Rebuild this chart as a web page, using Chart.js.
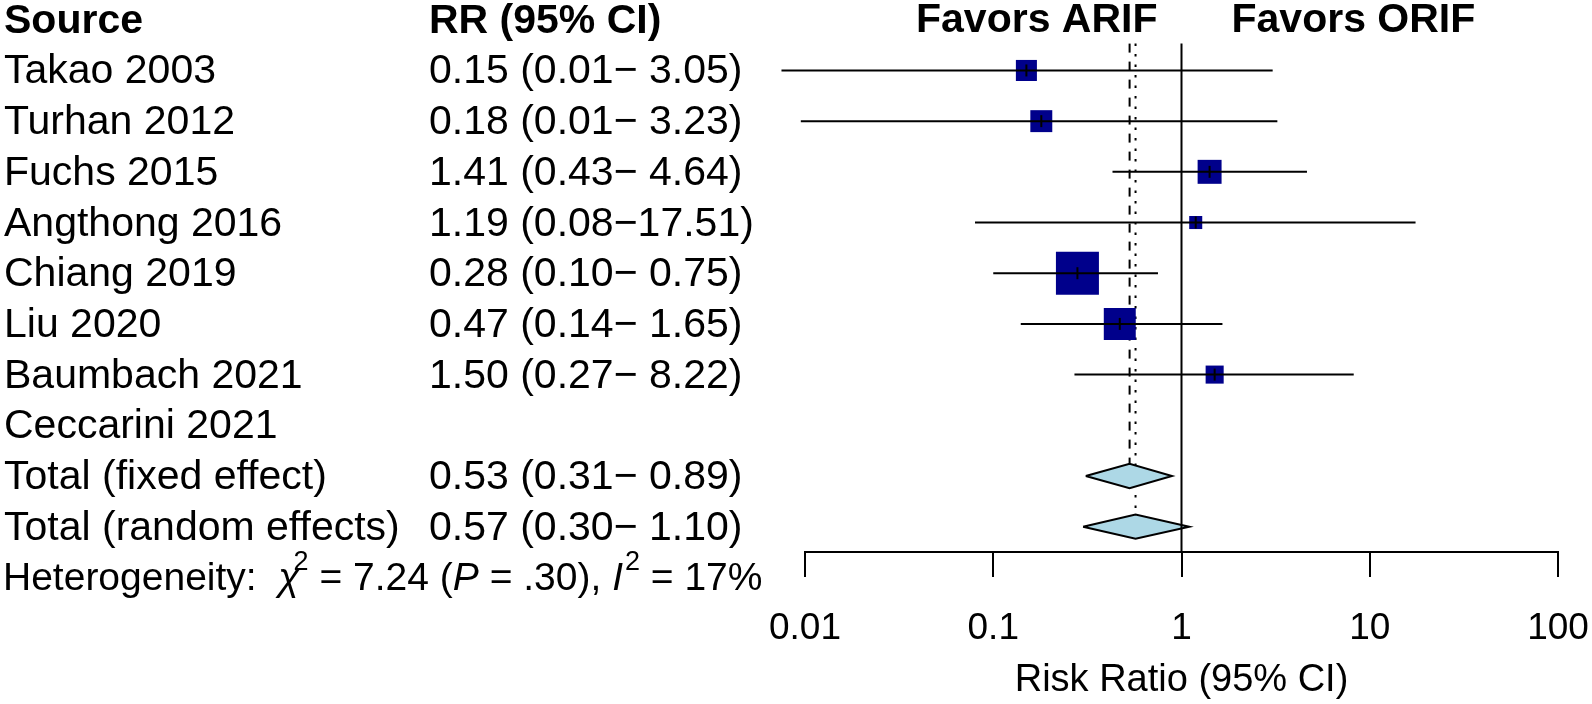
<!DOCTYPE html>
<html>
<head>
<meta charset="utf-8">
<script src="https://cdn.jsdelivr.net/npm/chart.js@4.4.1/dist/chart.umd.min.js"></script>
<style>
  body { margin: 0; background: #fff; }
  #wrap { width: 1592px; height: 704px; }
</style>
</head>
<body>
<div id="wrap"><canvas id="forest"></canvas></div>
<script>
// studies
const studies = ['Takao 2003', 'Turhan 2012', 'Fuchs 2015', 'Angthong 2016', 'Chiang 2019', 'Liu 2020', 'Baumbach 2021', 'Ceccarini 2021'];
const rrText = ['0.15 (0.01\u2212 3.05)', '0.18 (0.01\u2212 3.23)', '1.41 (0.43\u2212 4.64)', '1.19 (0.08\u221217.51)',
                '0.28 (0.10\u2212 0.75)', '0.47 (0.14\u2212 1.65)', '1.50 (0.27\u2212 8.22)', ''];
const rr = [0.15, 0.18, 1.41, 1.19, 0.28, 0.47, 1.50, null];
const lower = [0.0075, 0.0095, 0.43, 0.08, 0.10, 0.14, 0.27, null];
const upper = [3.05, 3.23, 4.64, 17.51, 0.75, 1.65, 8.22, null];
const weights = [9.1, 9.9, 11.8, 3.5, 38.0, 21.0, 6.7, null]; // % weight (square area)

// pooled
const pooledLabels = ['Total (fixed effect)', 'Total (random effects)'];
const pooledText = ['0.53 (0.31\u2212 0.89)', '0.57 (0.30\u2212 1.10)'];
const pooledEst = [0.53, 0.57];
const pooledLower = [0.31, 0.30];
const pooledUpper = [0.89, 1.10];

// axis
const xTicks = [0.01, 0.1, 1, 10, 100];
const xTickLabels = ['0.01', '0.1', '1', '10', '100'];

const FONT = "'Liberation Sans', Arial, sans-serif";
const rowOf = i => i + 1;              // row 0 = header
const fixedRow = studies.length + 1;   // 9
const randomRow = studies.length + 2;  // 10
const hetRow = studies.length + 3;     // 11
const dh = 0.24;                       // half height of diamonds (rows)
const sq = 6.975;                      // square side per sqrt(weight)

const datasets = [];

// CI lines
studies.forEach((s, i) => {
    if (rr[i] == null) return;
    datasets.push({
        data: [{x: lower[i], y: rowOf(i)}, {x: upper[i], y: rowOf(i)}],
        showLine: true, borderColor: '#000', borderWidth: 2, pointRadius: 0, clip: false, order: 3
    });
});

// squares
datasets.push({
    data: rr.map((v, i) => ({x: v, y: rowOf(i)})).filter(p => p.x != null),
    pointStyle: 'rect',
    pointRadius: weights.filter(w => w != null).map(w => sq * Math.sqrt(w) / Math.SQRT2),
    backgroundColor: '#00008B', borderWidth: 0, order: 4, clip: false
});

// small vertical tick at estimate
datasets.push({
    data: rr.map((v, i) => ({x: v, y: rowOf(i)})).filter(p => p.x != null),
    pointStyle: 'line', rotation: 90, pointRadius: 6, borderWidth: 2, borderColor: '#000', order: 2, clip: false
});

// diamonds
[fixedRow, randomRow].forEach((row, k) => {
    datasets.push({
        data: [
            {x: pooledLower[k], y: row}, {x: pooledEst[k], y: row - dh},
            {x: pooledUpper[k], y: row}, {x: pooledEst[k], y: row + dh},
            {x: pooledLower[k], y: row}
        ],
        showLine: true, fill: 'shape', backgroundColor: '#ADD8E6', borderColor: '#000', borderWidth: 2,
        pointRadius: 0, tension: 0, order: 6, clip: false
    });
});

// reference lines
const refTop = 0.47, axisRow = 10.5;
datasets.push({
    data: [{x: 1, y: refTop}, {x: 1, y: axisRow}],
    showLine: true, borderColor: '#000', borderWidth: 2, pointRadius: 0, order: 5
});
datasets.push({
    data: [{x: pooledEst[0], y: refTop}, {x: pooledEst[0], y: fixedRow - dh}],
    showLine: true, borderColor: '#000', borderWidth: 2, borderDash: [9, 9], pointRadius: 0, order: 7
});
datasets.push({
    data: [{x: pooledEst[1], y: refTop}, {x: pooledEst[1], y: randomRow - dh}],
    showLine: true, borderColor: '#000', borderWidth: 2, borderDash: [2.5, 8], pointRadius: 0, order: 7
});

// left table text
const tablePlugin = {
    id: 'table',
    afterDraw(chart) {
        const ctx = chart.ctx;
        const y = chart.scales.y, x = chart.scales.x;
        const base = r => y.getPixelForValue(r) + 13;
        ctx.save();
        ctx.fillStyle = '#000';
        ctx.textBaseline = 'alphabetic';
        ctx.textAlign = 'left';

        ctx.font = 'bold 41px ' + FONT;
        ctx.fillText('Source', 4, base(0));
        ctx.fillText('RR (95% CI)', 429, base(0));
        const x1 = x.getPixelForValue(1);
        ctx.textAlign = 'right';
        ctx.fillText('Favors ARIF', x1 - 24, base(0) - 1);
        ctx.textAlign = 'left';
        ctx.fillText('Favors ORIF', x1 + 50, base(0) - 1);

        ctx.font = '41px ' + FONT;
        studies.forEach((s, i) => {
            ctx.fillText(s, 4, base(rowOf(i)));
            ctx.fillText(rrText[i], 429, base(rowOf(i)));
        });
        pooledLabels.forEach((s, k) => {
            const r = fixedRow + k;
            ctx.fillText(s, 4, base(r));
            ctx.fillText(pooledText[k], 429, base(r));
        });

        // heterogeneity line
        const fs = 39;
        const parts = [
            {t: 'Heterogeneity:  '},
            {t: '\u03C7', it: true},
            {t: '2', sup: true, back: 6},
            {t: ' = 7.24 ('},
            {t: 'P', it: true},
            {t: ' = .30), '},
            {t: 'I', it: true},
            {t: '2', sup: true, back: -2},
            {t: ' = 17%'}
        ];
        let cx = 3;
        const hb = base(hetRow);
        parts.forEach(p => {
            if (p.sup) {
                ctx.font = '27px ' + FONT;
                cx -= p.back;
                ctx.fillText(p.t, cx, hb - 20);
            } else {
                ctx.font = (p.it ? 'italic ' : '') + fs + 'px ' + FONT;
                ctx.fillText(p.t, cx, hb);
            }
            cx += ctx.measureText(p.t).width;
        });
        ctx.restore();
    }
};

new Chart(document.getElementById('forest'), {
    type: 'scatter',
    data: {datasets: datasets},
    options: {
        responsive: true,
        maintainAspectRatio: false,
        animation: false,
        layout: {autoPadding: false, padding: {left: 805, right: 34, top: 0, bottom: 0}},
        plugins: {legend: {display: false}, tooltip: {enabled: false}},
        scales: {
            x: {
                type: 'logarithmic',
                min: 0.01,
                max: 100,
                afterBuildTicks: s => { s.ticks = xTicks.map(v => ({value: v})); },
                afterFit: s => { s.height = 152; s.paddingLeft = 0; s.paddingRight = 0; },
                ticks: {
                    color: '#000',
                    font: {family: FONT, size: 37},
                    padding: 30,
                    maxRotation: 0,
                    autoSkip: false,
                    callback: (v) => xTickLabels[xTicks.indexOf(v)] ?? ''
                },
                grid: {drawOnChartArea: false, drawTicks: true, tickLength: 25, color: '#000', lineWidth: 2},
                border: {display: true, color: '#000', width: 2},
                title: {
                    display: true,
                    text: 'Risk Ratio (95% CI)',
                    color: '#000',
                    font: {family: FONT, size: 38},
                    padding: {top: 0, bottom: 1}
                }
            },
            y: {
                type: 'linear',
                reverse: true,
                min: -0.39,
                max: axisRow,
                display: false
            }
        }
    },
    plugins: [tablePlugin]
});
</script>
</body>
</html>
